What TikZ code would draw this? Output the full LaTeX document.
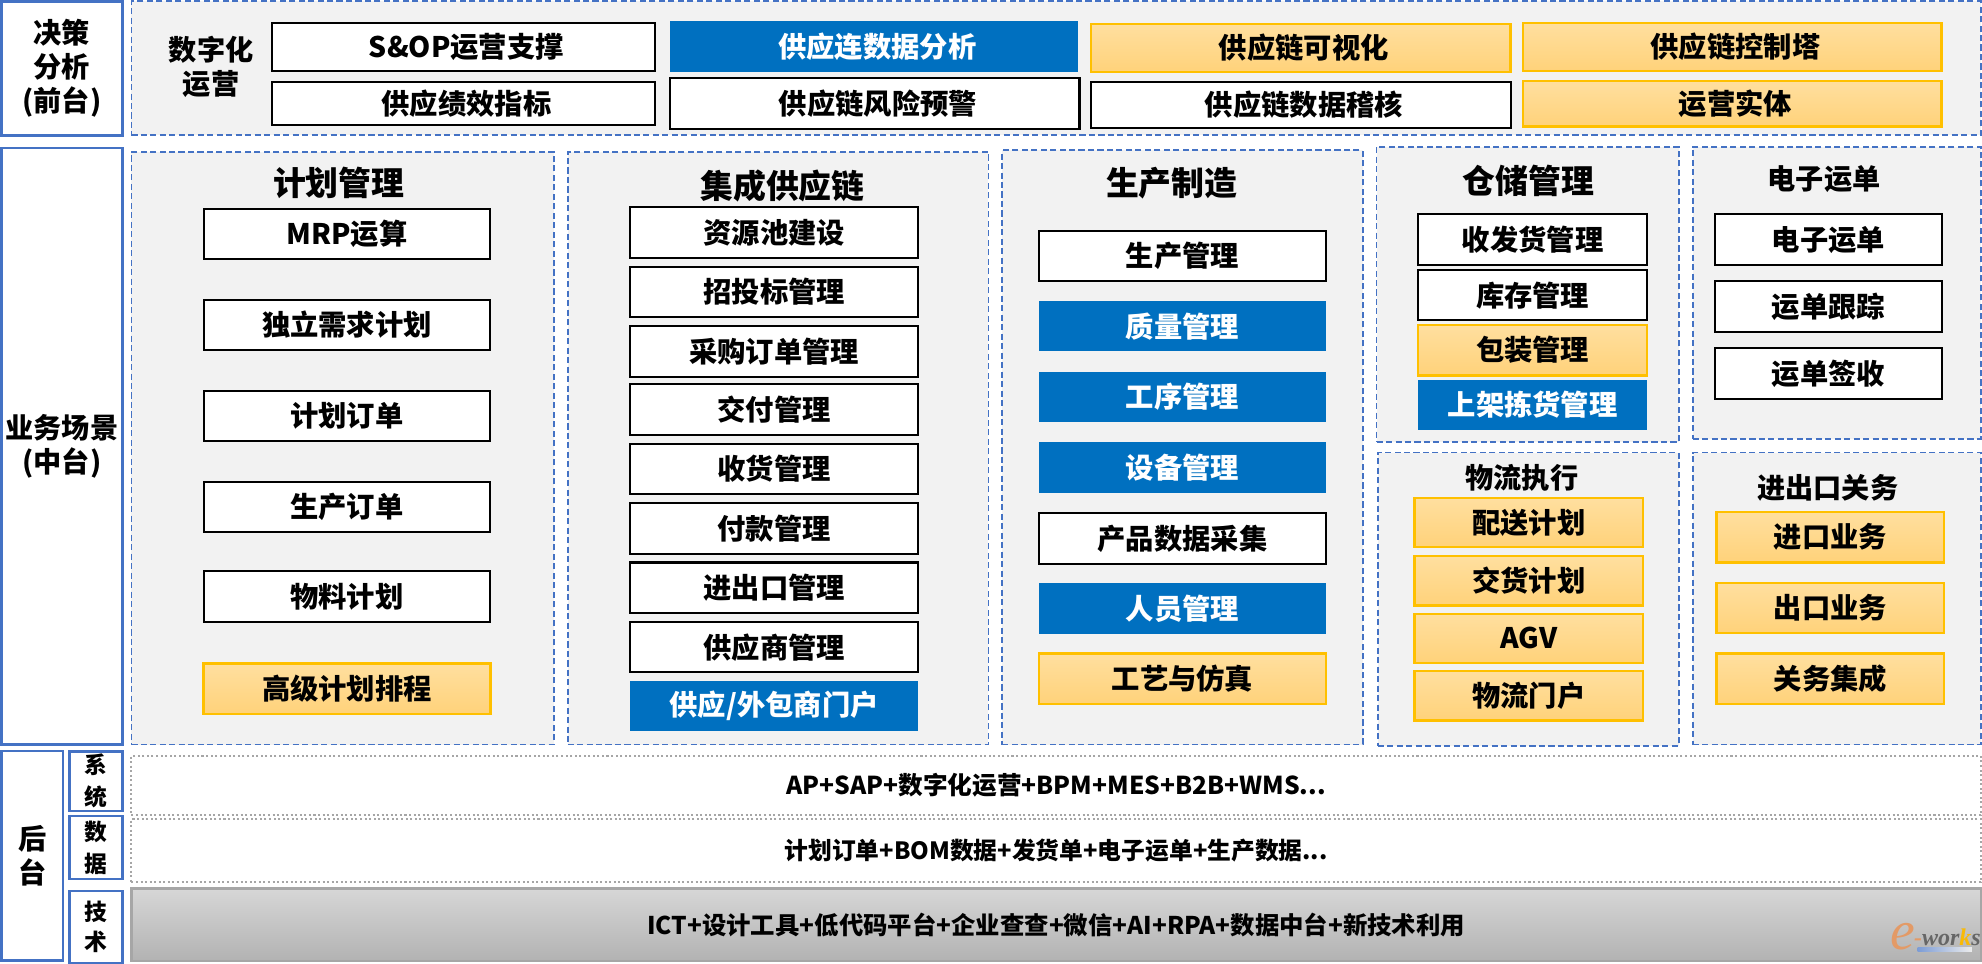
\documentclass[tikz,border=0pt]{standalone}
\usepackage{fontspec}
\setmainfont{Noto Sans CJK SC}
\tikzset{
	sidebox/.style={draw=sideblue,line width=2pt,fill=white,inner sep=0pt,align=center,font=\fontsize{22.3}{27}\selectfont\bfseries},
	smallside/.style={sidebox,font=\fontsize{18}{25.5}\selectfont\bfseries},
	panel/.style={draw=sideblue,line width=1.5pt,dash pattern=on 4.8pt off 2.7pt,fill=panelgray,inner sep=0pt},
	whitebox/.style={draw=black,line width=1.6pt,fill=white,inner sep=0pt,font=\fontsize{22.4}{26}\selectfont\bfseries},
	bluebox/.style={fill=itemblue,text=white,inner sep=0pt,font=\fontsize{22.4}{26}\selectfont\bfseries},
	orangebox/.style={draw=itemorange,line width=1.8pt,top color=orangetop,bottom color=orangebot,inner sep=0pt,font=\fontsize{22.4}{26}\selectfont\bfseries},
	bartext/.style={draw=gray!70,line width=1.6pt,dotted,fill=white,inner sep=0pt,font=\fontsize{19.5}{22}\selectfont\bfseries},
	title/.style={font=\fontsize{26}{30}\selectfont\bfseries,inner sep=0pt},
	subtitle/.style={font=\fontsize{22.3}{26}\selectfont\bfseries,inner sep=0pt}
}
\definecolor{sideblue}{HTML}{4472C4}
\definecolor{panelgray}{HTML}{F2F2F2}
\definecolor{itemblue}{HTML}{0070C0}
\definecolor{itemorange}{HTML}{FFC000}
\definecolor{orangetop}{HTML}{FFDF9F}
\definecolor{orangebot}{HTML}{FFD27A}
\definecolor{logoorange}{HTML}{E39A66}
\newfontfamily\logofont{Liberation Serif}
\begin{document}
\begin{tikzpicture}[x=1pt,y=-1pt]
	\useasboundingbox[fill=white] (0,0) rectangle (1568,762);
	% left labels
	\node[sidebox,minimum width=96,minimum height=106] (front) at (49,54) {决策\\分析\\(前台)};
	\node[sidebox,minimum width=96,minimum height=472] (middle) at (49,353) {业务场景\\(中台)};
	\node[sidebox,minimum width=49,minimum height=166] (back) at (25.5,677) {后\\台};
	\node[smallside,minimum width=42,minimum height=47] (sys) at (76,618) {系\\统};
	\node[smallside,minimum width=42,minimum height=50] (data) at (76,670.5) {数\\据};
	\node[smallside,minimum width=42,minimum height=57] (tech) at (76,733.5) {技\\[-2pt]术};
	% panels
	\node[panel,minimum width=1463,minimum height=106] (toppanel) at (835.5,54) {};
	\node[panel,minimum width=334,minimum height=469] (planpanel) at (271,354.5) {};
	\node[panel,minimum width=333,minimum height=469] (scmpanel) at (615.5,354.5) {};
	\node[panel,minimum width=285,minimum height=470] (prodpanel) at (935.5,354) {};
	\node[panel,minimum width=239,minimum height=234] (whpanel) at (1208.5,233) {};
	\node[panel,minimum width=228,minimum height=231] (waypanel) at (1453,231.5) {};
	\node[panel,minimum width=238,minimum height=232] (logpanel) at (1209,474) {};
	\node[panel,minimum width=228,minimum height=231] (cuspanel) at (1453,473.5) {};
	% top row
	\node[font=\fontsize{22.3}{27}\selectfont\bfseries,align=center,inner sep=0pt] (digital) at (167,53) {数字化\\运营};
	\node[whitebox,minimum width=303,minimum height=38] (sop) at (366.5,37) {\hspace{5pt}S\&OP运营支撑};
	\node[whitebox,minimum width=303,minimum height=34] (kpi) at (366.5,82) {\hspace{5pt}供应绩效指标};
	\node[bluebox,minimum width=323,minimum height=40] (analysis) at (691.5,37) {\hspace{5pt}供应连数据分析};
	\node[whitebox,minimum width=324,minimum height=40] (risk) at (692,82) {\hspace{5pt}供应链风险预警};
	\node[orangebox,minimum width=332,minimum height=38] (visual) at (1029,38) {\hspace{5pt}供应链可视化};
	\node[whitebox,minimum width=332,minimum height=36] (audit) at (1029,83) {\hspace{5pt}供应链数据稽核};
	\node[orangebox,minimum width=331,minimum height=38] (tower) at (1370.5,37) {\hspace{5pt}供应链控制塔};
	\node[orangebox,minimum width=331,minimum height=36] (entity) at (1370.5,82) {\hspace{5pt}运营实体};
	% titles
	\node[title] (plantitle) at (268,145) {计划管理};
	\node[title] (scmtitle) at (619,147) {集成供应链};
	\node[title] (prodtitle) at (927,145) {生产制造};
	\node[title] (whtitle) at (1209,143) {仓储管理};
	\node[subtitle] (waytitle) at (1443,142) {电子运单};
	\node[subtitle] (logtitle) at (1204,378) {物流执行};
	\node[subtitle] (custitle) at (1446,386) {进出口关务};
	% columns
	\foreach \nm/\cy/\sty/\txt in {mrp/185/whitebox/MRP运算,indep/257/whitebox/独立需求计划,planord/329/whitebox/计划订单,prodord/401/whitebox/生产订单,matplan/472/whitebox/物料计划,aps/545/orangebox/高级计划排程}
		\node[\sty,minimum width=227,minimum height=40] (\nm) at (274.5,\cy) {\txt};
	\foreach \nm/\cy/\sty/\txt in {pool/184/whitebox/资源池建设,bid/231/whitebox/招投标管理,po/278/whitebox/采购订单管理,deliver/324/whitebox/交付管理,receive/371/whitebox/收货管理,pay/418/whitebox/付款管理,impexp/465/whitebox/进出口管理,vendor/512/whitebox/供应商管理,portal/558.5/bluebox/{供应/外包商门户}}
		\node[\sty,minimum width=228,minimum height=40] (\nm) at (612.5,\cy) {\txt};
	\foreach \nm/\cy/\sty/\txt in {prodmgr/202.5/whitebox/生产管理,quality/258/bluebox/质量管理,process/314/bluebox/工序管理,device/370/bluebox/设备管理,collect/426/whitebox/产品数据采集,staff/481.5/bluebox/人员管理,craft/537/orangebox/工艺与仿真}
		\node[\sty,minimum width=227,minimum height=40] (\nm) at (935.5,\cy) {\txt};
	\foreach \nm/\cy/\sty/\txt in {ship/189.5/whitebox/收发货管理,stock/233.5/whitebox/库存管理,pack/277/orangebox/包装管理,pick/320.5/bluebox/上架拣货管理}
		\node[\sty,minimum width=181,minimum height=40] (\nm) at (1212.5,\cy) {\txt};
	\foreach \nm/\cy/\sty/\txt in {ewaybill/189.5/whitebox/电子运单,track/242.5/whitebox/运单跟踪,sign/295.5/whitebox/运单签收}
		\node[\sty,minimum width=179,minimum height=40] (\nm) at (1446.5,\cy) {\txt};
	\foreach \nm/\cy/\txt in {dist/413.5/配送计划,hand/459.5/交货计划,agv/505/AGV,logportal/550.5/物流门户}
		\node[orangebox,minimum width=181,minimum height=39] (\nm) at (1209.5,\cy) {\txt};
	\foreach \nm/\cy/\txt in {import/425/进口业务,export/481/出口业务,customs/537/关务集成}
		\node[orangebox,minimum width=180,minimum height=40] (\nm) at (1448,\cy) {\txt};
	% bottom bars
	\node[bartext,minimum width=1463,minimum height=47] (sysbar) at (835.5,621.5) {AP+SAP+数字化运营+BPM+MES+B2B+WMS...};
	\node[bartext,minimum width=1463,minimum height=50,font=\fontsize{18.8}{22}\selectfont\bfseries] (databar) at (835.5,673) {计划订单+BOM数据+发货单+电子运单+生产数据...};
	\node[draw=gray!70,line width=1.8pt,top color=black!16,bottom color=black!30,inner sep=0pt,minimum width=1463,minimum height=57,font=\fontsize{19.3}{22}\selectfont\bfseries] (techbar) at (835.5,731.5) {ICT+设计工具+低代码平台+企业查查+微信+AI+RPA+数据中台+新技术利用};
	% logo
	\node[left color=sideblue!70,right color=white!85!gray,inner sep=0pt,minimum width=43,minimum height=2.8] (logobar) at (1538.5,751) {};
	\node[inner sep=0pt,text=logoorange,font=\logofont\fontsize{44}{44}\selectfont\itshape] (logoe) at (1505,741) {e};
	\node[inner sep=0pt,anchor=base west,text=black!60,font=\logofont\fontsize{19}{19}\selectfont\bfseries\itshape] (logoworks) at (1514,748) {\textcolor{logoorange}{-}wor\textcolor{itemorange!90!brown}{k}s};
\end{tikzpicture}
\end{document}
